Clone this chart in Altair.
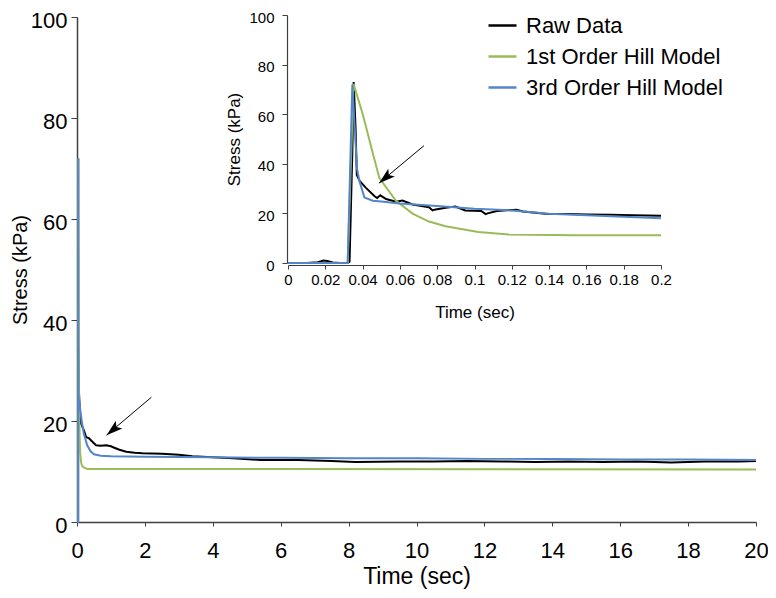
import altair as alt
import pandas as pd

FONT = "Liberation Sans, Arial, Helvetica, sans-serif"

SERIES = ["Raw Data", "1st Order Hill Model", "3rd Order Hill Model"]
COLORS = ["#000000", "#9BBB59", "#5485C8"]

# ---------------- main panel (0-20 s) ----------------
main_raw_t = [0, 0.033, 0.0355, 0.038, 0.05, 0.08, 0.12, 0.2, 0.27, 0.35, 0.41, 0.5, 0.56, 0.7,
              0.86, 1.0, 1.1, 1.25, 1.45, 1.7, 1.93, 2.5, 3.0, 3.4, 4.0, 4.6, 5.4, 6.5, 7.5, 8.2,
              9.5, 10.5, 11.5, 12.5, 13.5, 14.5, 15.5, 16.5, 17.5, 18.5, 19.5, 20]
main_raw_s = [0, 0, 72, 35, 27, 22.5, 19.5, 18.2, 16.8, 16.6, 16.2, 15.6, 15.2, 15.1,
              15.2, 15.0, 14.7, 14.3, 13.9, 13.7, 13.6, 13.5, 13.3, 13.0, 12.8, 12.6, 12.3, 12.3, 12.1, 11.9,
              12.0, 12.0, 12.1, 12.0, 11.9, 12.0, 11.9, 12.0, 11.8, 12.0, 12.0, 12.1]

main_m1_t = [0, 0.033, 0.035, 0.045, 0.055, 0.07, 0.09, 0.12, 0.15, 0.2, 0.3, 20]
main_m1_s = [0, 0, 72, 40, 28, 19, 14, 11.8, 11.1, 10.8, 10.5, 10.4]

main_m3_t = [0, 0.033, 0.0352, 0.038, 0.042, 0.05, 0.07, 0.1, 0.15, 0.2, 0.3, 0.4, 0.5, 0.7,
             1.0, 2, 4, 6, 8, 10, 12, 14, 16, 18, 20]
main_m3_s = [0, 0, 72, 35, 27, 24.5, 23.5, 22, 19.5, 17.5, 15.2, 14.0, 13.4, 13.1,
             13.0, 12.9, 12.8, 12.7, 12.6, 12.6, 12.5, 12.5, 12.4, 12.4, 12.3]

main_arrow_t = [2.19]
main_arrow_s = [24.7]
main_arrow_t2 = [0.87]
main_arrow_s2 = [17.2]

# ---------------- inset panel (0-0.2 s) ----------------
inset_raw_t = [0, 0.01, 0.016, 0.019, 0.021, 0.024, 0.028, 0.032, 0.033, 0.0345, 0.0352, 0.0362,
               0.0369, 0.0385, 0.0418, 0.0463, 0.0478, 0.0495, 0.0526, 0.0579, 0.0614, 0.0668,
               0.0756, 0.0775, 0.0785, 0.0845, 0.0898, 0.095, 0.1036, 0.106, 0.107, 0.112,
               0.1226, 0.126, 0.138, 0.15, 0.16, 0.173, 0.185, 0.2]
inset_raw_s = [0, 0, 0.3, 1.0, 0.8, 0.2, 0, 0, 0.5, 45, 73, 55,
               35.5, 33, 30.3, 27, 26.2, 27.3, 25.8, 24.7, 25.2, 23.6,
               22.5, 21.2, 21.5, 22.3, 22.8, 21.2, 21.0, 19.7, 20.0, 21.0,
               21.5, 20.8, 19.9, 19.8, 19.6, 19.5, 19.3, 19.1]

inset_m1_t = [0, 0.032, 0.0351, 0.0401, 0.0454, 0.049, 0.0579, 0.0668, 0.0756, 0.0845, 0.102,
              0.1185, 0.1535, 0.2]
inset_m1_s = [0, 0, 72.3, 60, 44.5, 34.2, 25.1, 19.9, 16.7, 14.8, 12.5,
              11.5, 11.2, 11.2]

inset_m3_t = [0, 0.032, 0.0345, 0.037, 0.0383, 0.041, 0.0454, 0.05, 0.06, 0.08, 0.1, 0.12,
              0.14, 0.16, 0.18, 0.2]
inset_m3_s = [0, 0, 72, 38, 33, 26.4, 25.1, 24.8, 24.0, 23.0, 21.9, 21.2,
              19.9, 19.3, 18.6, 18.0]

inset_arrow_t = [0.0729]
inset_arrow_s = [47.3]
inset_arrow_t2 = [0.0488]
inset_arrow_s2 = [32.2]

ARROW_HEAD = "M0,0 L0.5,1.6 L0,1.25 L-0.5,1.6 Z"

cscale = alt.Scale(domain=SERIES, range=COLORS)


def series_df(t, s, name):
    return pd.DataFrame({"t": t, "s": s, "series": name})


def build_panel(data_list, arrow, xscale, yscale, xaxis, yaxis, legend):
    layers = []
    for (t, s), name in zip(data_list, SERIES):
        layers.append(
            alt.Chart(series_df(t, s, name)).mark_line(strokeWidth=2).encode(
                x=alt.X("t:Q", scale=xscale, axis=xaxis),
                y=alt.Y("s:Q", scale=yscale, axis=yaxis),
                color=alt.Color("series:N", scale=cscale, legend=legend),
            )
        )
    adf = pd.DataFrame({"t": arrow[0], "s": arrow[1], "t2": arrow[2], "s2": arrow[3]})
    layers.append(
        alt.Chart(adf).mark_rule(color="black", strokeWidth=1).encode(
            x=alt.X("t:Q", scale=xscale, axis=xaxis),
            y=alt.Y("s:Q", scale=yscale, axis=yaxis),
            x2="t2:Q",
            y2="s2:Q",
        )
    )
    layers.append(
        alt.Chart(adf).mark_point(shape=ARROW_HEAD, filled=True, color="black", opacity=1,
                                  size=420, angle=230, strokeWidth=0).encode(
            x=alt.X("t2:Q", scale=xscale, axis=xaxis),
            y=alt.Y("s2:Q", scale=yscale, axis=yaxis),
        )
    )
    return alt.layer(*layers)


common_axis = dict(grid=False, labelFlush=False, titleFontWeight="normal", labelFont=FONT,
                   titleFont=FONT, labelColor="black", titleColor="black",
                   domainColor="#404040", tickColor="#404040")

main_x_axis = alt.Axis(values=list(range(0, 21, 2)), title="Time (sec)", labelFontSize=22,
                       titleFontSize=23, tickSize=4, labelPadding=14, titlePadding=4,
                       domainWidth=1.5, orient="bottom", **common_axis)
main_y_axis = alt.Axis(values=[0, 20, 40, 60, 80, 100], title="Stress (kPa)", labelFontSize=22,
                       titleFontSize=20, tickSize=6, labelPadding=4, titlePadding=0,
                       labelOffset=3, domainWidth=1.5, orient="left", **common_axis)

inset_x_axis = alt.Axis(values=[0, 0.02, 0.04, 0.06, 0.08, 0.1, 0.12, 0.14, 0.16, 0.18, 0.2],
                        format="~g", title="Time (sec)", labelFontSize=15, titleFontSize=17,
                        tickSize=4, labelPadding=3, titlePadding=17, orient="bottom",
                        offset=-257, domainWidth=1.2, **common_axis)
inset_y_axis = alt.Axis(values=[0, 20, 40, 60, 80, 100], title="Stress (kPa)", labelFontSize=15,
                        titleFontSize=17, tickSize=5, labelPadding=8, titlePadding=5,
                        labelOffset=2, orient="left", offset=-210, domainWidth=1.2,
                        **common_axis)

legend = alt.Legend(title=None, orient="none", legendX=410, legendY=-7, symbolType="stroke",
                    symbolSize=784, symbolStrokeWidth=2.5, labelFontSize=22, labelOffset=8,
                    rowPadding=4, padding=0, labelColor="black", labelFont=FONT,
                    labelLimit=400, direction="vertical")

main_panel = build_panel(
    [(main_raw_t, main_raw_s), (main_m1_t, main_m1_s), (main_m3_t, main_m3_s)],
    (main_arrow_t, main_arrow_s, main_arrow_t2, main_arrow_s2),
    alt.Scale(domain=[0, 20], nice=False, zero=False),
    alt.Scale(domain=[0, 100], nice=False),
    main_x_axis, main_y_axis, legend,
)

inset_panel = build_panel(
    [(inset_raw_t, inset_raw_s), (inset_m1_t, inset_m1_s), (inset_m3_t, inset_m3_s)],
    (inset_arrow_t, inset_arrow_s, inset_arrow_t2, inset_arrow_s2),
    alt.Scale(domain=[0, 0.2], range=[211, 584], nice=False, zero=False),
    alt.Scale(domain=[0, 100], range=[246, -2], nice=False),
    inset_x_axis, inset_y_axis, legend,
)

chart = alt.layer(main_panel, inset_panel).resolve_scale(
    x="independent", y="independent"
).properties(
    width=679,
    height=505,
    autosize=alt.AutoSizeParams(type="none"),
    padding={"left": 69, "top": 9, "right": 12, "bottom": 76},
    background="white",
).configure_view(stroke=None).configure_axis(
    grid=False, domainColor="#404040", tickColor="#404040", labelColor="black",
    titleColor="black", labelFont=FONT, titleFont=FONT, titleFontWeight="normal",
)

chart.save("out.html", embed_options={"renderer": "svg", "actions": False})
